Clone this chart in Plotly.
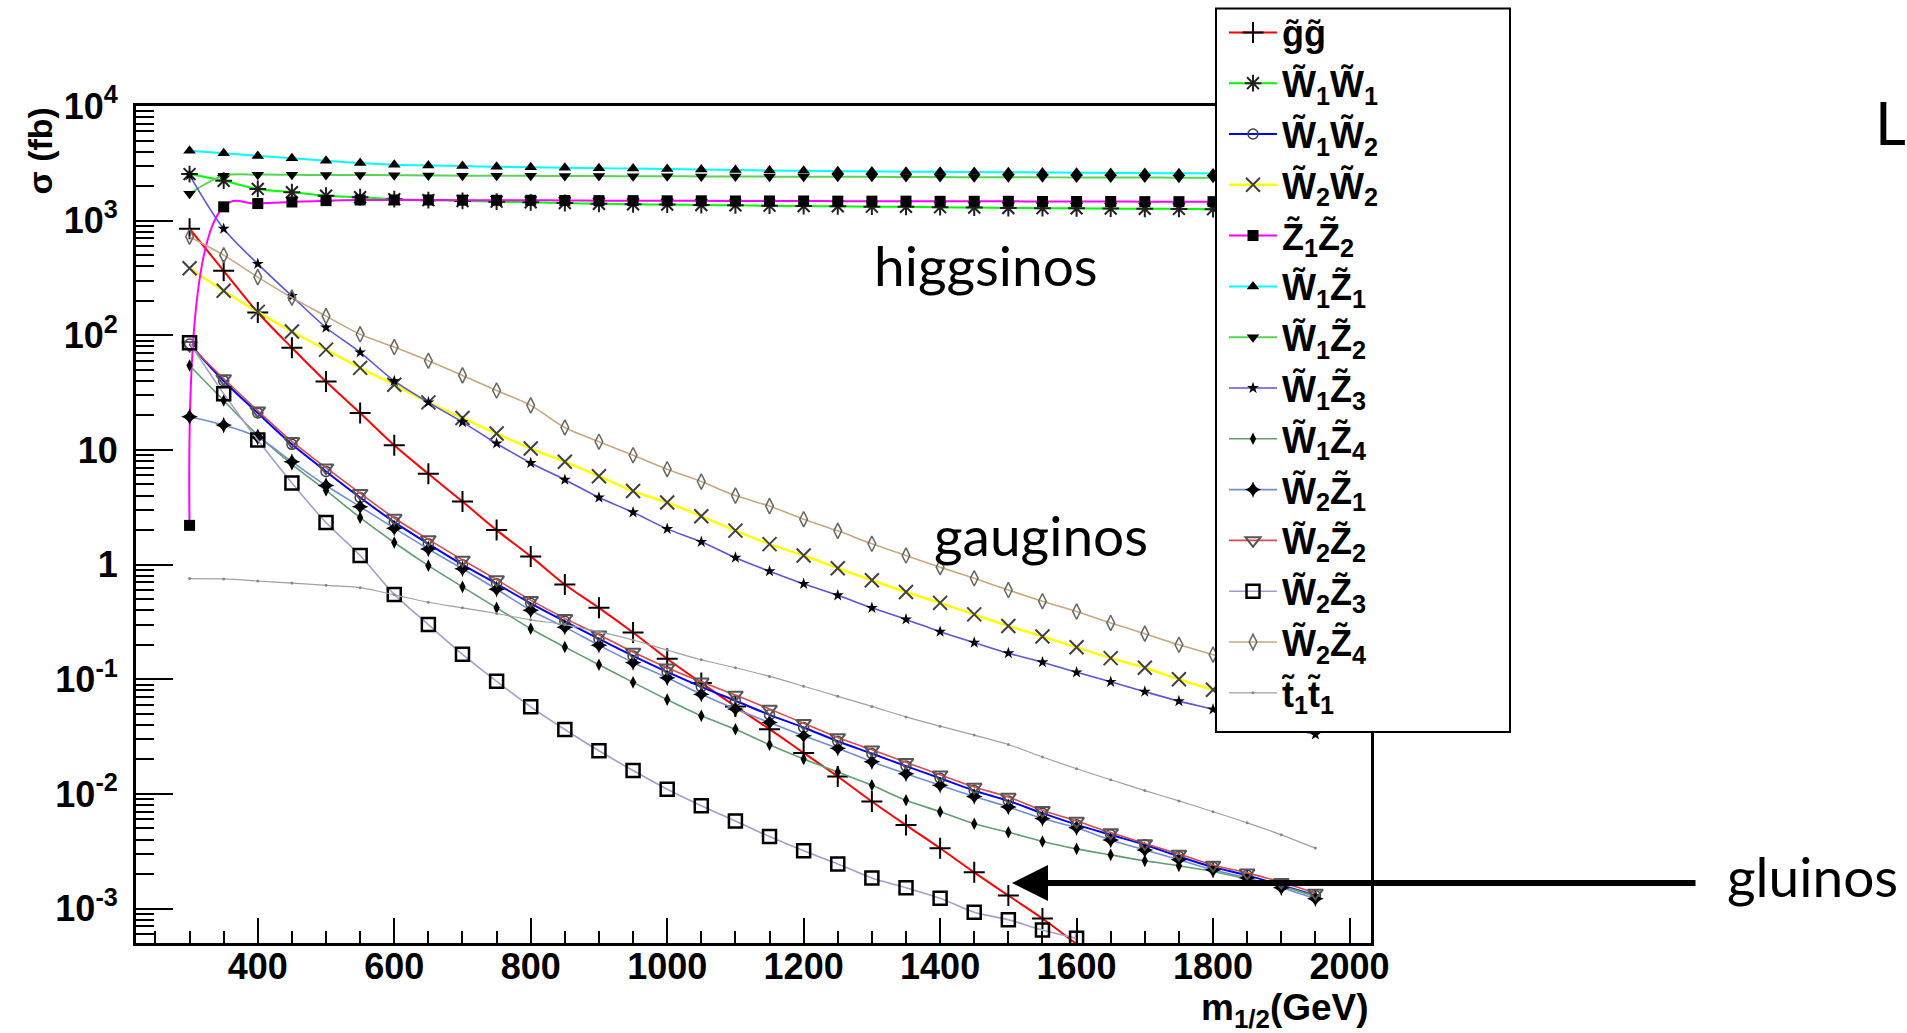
import plotly.graph_objects as go

# ---------------- data ----------------
m_half = [300, 350, 400, 450, 500, 550, 600, 650, 700, 750, 800, 850, 900, 950,
          1000, 1050, 1100, 1150, 1200, 1250, 1300, 1350, 1400, 1450, 1500, 1550,
          1600, 1650, 1700, 1750, 1800, 1850, 1900, 1950]

gg = [850, 365, 158, 78, 39.5, 21, 11, 6.2, 3.55, 2.0, 1.18, 0.67, 0.42, 0.256, 0.151,
      0.093, 0.058, 0.0367, 0.0228, 0.0142, 0.0086, 0.00535, 0.00336, 0.00207, 0.0013,
      0.00082, 0.00049]
w1w1 = [2550, 2230, 1890, 1770, 1650, 1600, 1540, 1510, 1485, 1465, 1445, 1425, 1405, 1390,
        1380, 1370, 1360, 1350, 1340, 1335, 1325, 1320, 1310, 1300, 1290, 1285, 1280, 1275,
        1270, 1265, 1260, 1255, 1250, 1245]
w1w2 = [84, 40, 21, 11.2, 6.5, 3.85, 2.35, 1.52, 1.0, 0.68, 0.46, 0.32, 0.225, 0.16, 0.116,
        0.086, 0.065, 0.049, 0.038, 0.0288, 0.0225, 0.0175, 0.0137, 0.0107, 0.0087, 0.0068,
        0.0054, 0.0044, 0.0036, 0.00285, 0.0023, 0.00195, 0.0016, 0.0013]
w2w2 = [385, 245, 160, 108, 75, 52, 37, 26, 19, 13.9, 10.3, 7.9, 5.9, 4.38, 3.48, 2.64, 1.98,
        1.51, 1.2, 0.93, 0.73, 0.577, 0.464, 0.368, 0.292, 0.236, 0.19, 0.153, 0.126, 0.10,
        0.081, 0.066, 0.054, 0.044]
z1z2 = [2.2, 1320, 1410, 1455, 1495, 1515, 1515, 1515, 1510, 1505, 1505, 1500, 1495, 1495,
        1490, 1490, 1485, 1485, 1485, 1480, 1480, 1480, 1475, 1475, 1475, 1470, 1470, 1470,
        1465, 1465, 1465, 1460, 1460, 1455]
w1z1 = [4070, 3880, 3670, 3510, 3330, 3180, 3080, 3030, 2990, 2950, 2920, 2890, 2870, 2845,
        2825, 2795, 2760, 2740, 2720, 2700, 2685, 2675, 2665, 2655, 2645, 2635, 2620, 2610,
        2600, 2590, 2580, 2570, 2560, 2550]
w1z2 = [1720, 2470, 2520, 2510, 2500, 2500, 2490, 2480, 2470, 2460, 2460, 2450, 2450, 2440,
        2440, 2430, 2430, 2420, 2420, 2410, 2410, 2400, 2400, 2390, 2390, 2390, 2380, 2380,
        2380, 2370, 2370, 2370, 2360, 2360]
w1z3 = [2500, 850, 420, 220, 117, 71, 40, 26, 17.5, 11.4, 7.7, 5.5, 3.85, 2.86, 2.05, 1.58,
        1.15, 0.877, 0.68, 0.54, 0.42, 0.333, 0.26, 0.209, 0.169, 0.141, 0.115, 0.095, 0.078,
        0.0645, 0.0547, 0.046, 0.039, 0.033]
w1z4 = [54.6, 27, 13.5, 7.5, 4.44, 2.57, 1.56, 0.98, 0.64, 0.42, 0.276, 0.191, 0.134, 0.094,
        0.0665, 0.048, 0.0367, 0.0269, 0.0202, 0.0155, 0.0119, 0.0088, 0.0070, 0.0055,
        0.00463, 0.00385, 0.00332, 0.00294, 0.00261, 0.00236, 0.00211, 0.00181, 0.00157,
        0.00128]
w2z1 = [19.5, 16.5, 12.9, 7.9, 4.9, 3.2, 2.08, 1.37, 0.92, 0.61, 0.40, 0.285, 0.198, 0.14,
        0.103, 0.074, 0.055, 0.042, 0.0321, 0.025, 0.0191, 0.015, 0.0119, 0.0095, 0.0077,
        0.0061, 0.00508, 0.00397, 0.00325, 0.00267, 0.00218, 0.00185, 0.00152, 0.00122]
w2z2 = [82, 42, 22, 11.9, 7.0, 4.2, 2.55, 1.66, 1.1, 0.74, 0.49, 0.34, 0.245, 0.173, 0.126,
        0.095, 0.073, 0.055, 0.0414, 0.0311, 0.0243, 0.0189, 0.0147, 0.0115, 0.0094, 0.0072,
        0.0058, 0.0046, 0.0037, 0.003, 0.0024, 0.00205, 0.0017, 0.00137]
w2z3 = [86, 31, 12.2, 5.16, 2.33, 1.2, 0.55, 0.30, 0.165, 0.096, 0.0575, 0.0365, 0.0238,
        0.016, 0.011, 0.0079, 0.0058, 0.00425, 0.00319, 0.00245, 0.00185, 0.00152, 0.00123,
        0.00093, 0.00080, 0.00065, 0.00055]
w2z4 = [725, 500, 322, 213, 147, 102, 79, 60, 44.7, 33, 24.5, 15.7, 11.8, 9.0, 6.8, 5.3, 4.0,
        3.24, 2.49, 1.97, 1.52, 1.2, 0.95, 0.76, 0.60, 0.48, 0.39, 0.31, 0.25, 0.20, 0.164,
        0.133, 0.108, 0.088]
t1t1 = [0.755, 0.75, 0.72, 0.69, 0.66, 0.63, 0.545, 0.47, 0.42, 0.375, 0.33, 0.30, 0.26, 0.22,
        0.18, 0.148, 0.126, 0.106, 0.087, 0.071, 0.058, 0.047, 0.039, 0.0326, 0.027, 0.021,
        0.0166, 0.0133, 0.0107, 0.0087, 0.007, 0.0056, 0.0044, 0.00337]

names = [
    "g\u0303g\u0303",
    "W\u0303<sub>1</sub>W\u0303<sub>1</sub>",
    "W\u0303<sub>1</sub>W\u0303<sub>2</sub>",
    "W\u0303<sub>2</sub>W\u0303<sub>2</sub>",
    "Z\u0303<sub>1</sub>Z\u0303<sub>2</sub>",
    "W\u0303<sub>1</sub>Z\u0303<sub>1</sub>",
    "W\u0303<sub>1</sub>Z\u0303<sub>2</sub>",
    "W\u0303<sub>1</sub>Z\u0303<sub>3</sub>",
    "W\u0303<sub>1</sub>Z\u0303<sub>4</sub>",
    "W\u0303<sub>2</sub>Z\u0303<sub>1</sub>",
    "W\u0303<sub>2</sub>Z\u0303<sub>2</sub>",
    "W\u0303<sub>2</sub>Z\u0303<sub>3</sub>",
    "W\u0303<sub>2</sub>Z\u0303<sub>4</sub>",
    "t\u0303<sub>1</sub>t\u0303<sub>1</sub>",
]
series = [gg, w1w1, w1w2, w2w2, z1z2, w1z1, w1z2, w1z3, w1z4, w2z1, w2z2, w2z3, w2z4, t1t1]

x_tickvals = [400, 600, 800, 1000, 1200, 1400, 1600, 1800, 2000]
y_tickvals = [1e-3, 1e-2, 1e-1, 1, 10, 1e2, 1e3, 1e4]
y_ticktext = ["10<sup>-3</sup>", "10<sup>-2</sup>", "10<sup>-1</sup>", "1", "10",
              "10<sup>2</sup>", "10<sup>3</sup>", "10<sup>4</sup>"]

# ---------------- styles ----------------
line_colors = ["#ff0000", "#00ff00", "#0000ff", "#ffff00", "#ff00ff", "#00ffff", "#59d354",
               "#5954d8", "#5fa06f", "#6f8fd0", "#d94a4a", "#a0a0cc", "#c9a77c", "#a0a0a0"]
symbols = ["cross-thin-open", "asterisk-open", "circle-open", "x-thin-open", "square",
           "triangle-up", "triangle-down", "star", "diamond-tall", "star-diamond",
           "triangle-down-open", "square-open", "diamond-tall-open", "circle"]
sizes = [15, 14, 10, 14, 11, 11, 11, 9, 9, 12, 13, 13, 11, 3]
mcolors = ["#000000", "#202020", "#404040", "#404040", "#000000", "#000000", "#000000",
           "#000000", "#000000", "#000000", "#555555", "#000000", "#666666", "#888888"]
mline = [2, 2, 1.5, 2, 0, 0, 0, 0, 0, 0, 2, 2.5, 1.5, 0]
lwidths = [2, 2, 2, 2.5, 2, 2, 2, 1.6, 1.6, 1.6, 1.6, 1.6, 1.6, 1.2]
smooth = [0.9, 0.9, 0.9, 0.9, 1.3, 0.9, 0.9, 0.9, 0.9, 0.9, 0.9, 0.9, 0.9, 0.9]

W, H = 1907, 1033
L, R, T, B = 136, 1371, 106, 943


def px(X):
    return (X - L) / (R - L)


def py(Y):
    return (B - Y) / (B - T)


fig = go.Figure()
for i, (nm, ys) in enumerate(zip(names, series)):
    fig.add_trace(go.Scatter(
        x=m_half[:len(ys)], y=ys, name=nm, mode="lines+markers",
        legendgroup=str(i),
        line=dict(color=line_colors[i], width=lwidths[i], shape="spline",
                  smoothing=smooth[i]),
        marker=dict(symbol=symbols[i], size=sizes[i], color=mcolors[i],
                    line=dict(width=mline[i], color=mcolors[i])),
    ))

axis_font = dict(family="Liberation Sans", size=36, color="black", weight="bold")

fig.update_layout(
    width=W, height=H, autosize=False,
    margin=dict(l=L, r=W - R, t=T, b=H - B, pad=0, autoexpand=False),
    paper_bgcolor="white", plot_bgcolor="white",
    showlegend=True,
    legend=dict(
        x=px(1224), y=py(2.5), xanchor="left", yanchor="top",
        bgcolor="rgba(0,0,0,0)", borderwidth=0,
        font=dict(family="Liberation Sans", size=36, color="black", weight="bold"),
        tracegroupgap=1, itemwidth=48, maxheight=900,
    ),
    xaxis=dict(
        range=[221.5, 2031.5], tickmode="array", tickvals=x_tickvals,
        ticks="inside", ticklen=25, tickwidth=2, tickcolor="black",
        minor=dict(dtick=50, tick0=0, ticks="inside", ticklen=12, tickwidth=2,
                   tickcolor="black", showgrid=False),
        showline=True, linewidth=3, linecolor="black", mirror=True,
        showgrid=False, zeroline=False, tickfont=axis_font, ticklabelstandoff=-10,
    ),
    yaxis=dict(
        type="log", range=[-3.3, 4.0], tickmode="array", tickvals=y_tickvals,
        ticktext=y_ticktext, ticks="inside", ticklen=37, tickwidth=2, tickcolor="black",
        minor=dict(tickmode="array",
                   tickvals=[k * 10.0 ** e for e in range(-4, 4) for k in range(2, 10)],
                   ticks="inside", ticklen=18, tickwidth=2, tickcolor="black",
                   showgrid=False),
        showline=True, linewidth=3, linecolor="black", mirror=True,
        showgrid=False, zeroline=False, tickfont=axis_font, ticklabelstandoff=8,
    ),
    shapes=[dict(type="rect", xref="paper", yref="paper",
                 x0=px(1216), x1=px(1510), y0=py(732), y1=py(8.5),
                 fillcolor="white", line=dict(color="black", width=2), layer="above")],
)

slide_font = dict(family="Lato", size=55, color="black")
ann = [
    dict(text="higgsinos", x=px(986), y=py(265), xanchor="center", yanchor="middle",
         font=slide_font),
    dict(text="gauginos", x=px(1041), y=py(535), xanchor="center", yanchor="middle",
         font=slide_font),
    dict(text="gluinos", x=px(1812), y=py(876), xanchor="center", yanchor="middle",
         font=slide_font),
    dict(text="L", x=px(1873), y=py(122), xanchor="left", yanchor="middle",
         font=dict(family="Lato", size=60, color="black")),
    dict(text="\u03c3 (fb)", x=px(39), y=1.0, xanchor="center", yanchor="top",
         textangle=-90,
         font=dict(family="Liberation Sans", size=34, color="black", weight="bold")),
    dict(text="m<sub>1/2</sub>(GeV)", x=1.0, y=py(1010), xanchor="right",
         yanchor="middle",
         font=dict(family="Liberation Sans", size=37, color="black", weight="bold")),
    dict(text="", x=px(1012), y=py(883), showarrow=True, arrowhead=2, arrowsize=1.2,
         arrowwidth=6, arrowcolor="black", ax=1697 - 1012, ay=0, standoff=0),
]
for a in ann:
    a.setdefault("showarrow", False)
    a["xref"] = "paper"
    a["yref"] = "paper"
fig.update_layout(annotations=ann)

fig.write_html("out.html", config={"displayModeBar": False},
               post_script="document.body.style.margin='0';"
                           "document.body.style.overflow='hidden';")
